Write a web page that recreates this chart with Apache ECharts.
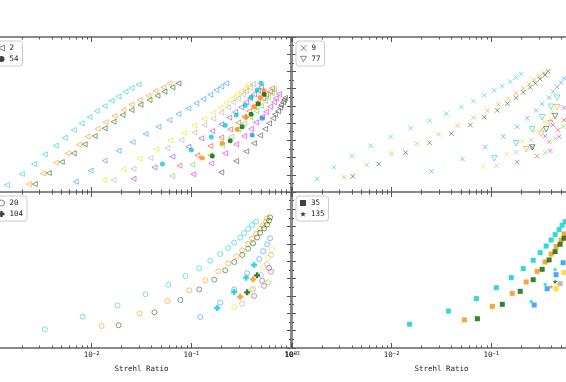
<!DOCTYPE html>
<html>
<head>
<meta charset="utf-8">
<script src="https://cdn.jsdelivr.net/npm/echarts@6/dist/echarts.min.js"></script>
<style>
html, body { margin: 0; padding: 0; background: #fff; }
#main { width: 566px; height: 382px; }
</style>
</head>
<body>
<div id="main"></div>
<script>
// points are [log10(Strehl ratio), y]; series in colour order
var colors = ['#00CED1', '#FF8C00', '#006400', '#1E90FF', '#FFD700', '#A9A9A9',
              '#9932CC', '#FF3030', '#55DD22', '#FF00FF', '#404040'];
var xTickExponents = ['\u22123', '\u22122', '\u22121', '0'];
var legendNames = [['2', '54'], ['9', '77'], ['20', '104'], ['35', '135']];

// top left: hollow left triangles ("2") and filled circles ("54")
var tlTriangles = [
  [[-2.85,0.41],[-2.70,1.05],[-2.58,1.63],[-2.47,2.19],[-2.36,2.69],[-2.27,3.15],[-2.18,3.60],[-2.10,3.99],[-2.02,4.35],[-1.95,4.70],[-1.87,4.99],[-1.80,5.30],[-1.73,5.55],[-1.66,5.83],[-1.60,6.04],[-1.53,6.25]],
  [[-2.63,0.46],[-2.49,1.08],[-2.36,1.70],[-2.24,2.25],[-2.13,2.75],[-2.04,3.21],[-1.94,3.68],[-1.86,4.06],[-1.77,4.41],[-1.68,4.76],[-1.60,5.07],[-1.52,5.34],[-1.43,5.59],[-1.36,5.86],[-1.28,6.08],[-1.22,6.31]],
  [[-2.57,0.46],[-2.43,1.10],[-2.30,1.74],[-2.18,2.25],[-2.07,2.77],[-1.97,3.25],[-1.87,3.70],[-1.78,4.08],[-1.69,4.47],[-1.60,4.76],[-1.51,5.07],[-1.42,5.34],[-1.34,5.59],[-1.27,5.83],[-1.19,6.08],[-1.13,6.31]],
  [[-2.16,0.60],[-2.01,1.24],[-1.87,1.82],[-1.73,2.40],[-1.59,2.90],[-1.46,3.37],[-1.33,3.79],[-1.22,4.18],[-1.13,4.53],[-1.03,4.86],[-0.95,5.15],[-0.88,5.40],[-0.81,5.65],[-0.75,5.92],[-0.70,6.12],[-0.65,6.31]],
  [[-1.87,0.68],[-1.68,1.32],[-1.52,1.94],[-1.35,2.50],[-1.21,3.00],[-1.07,3.44],[-0.97,3.87],[-0.87,4.24],[-0.78,4.61],[-0.71,4.90],[-0.65,5.19],[-0.59,5.44],[-0.54,5.65],[-0.50,5.84],[-0.46,6.02],[-0.43,6.25]],
  [[-1.78,0.70],[-1.58,1.35],[-1.41,1.97],[-1.24,2.54],[-1.10,3.02],[-0.97,3.46],[-0.87,3.89],[-0.78,4.26],[-0.70,4.61],[-0.63,4.92],[-0.58,5.21],[-0.53,5.44],[-0.48,5.67],[-0.45,5.86],[-0.41,6.06],[-0.38,6.27]],
  [[-1.58,0.77],[-1.37,1.43],[-1.19,2.05],[-1.03,2.63],[-0.90,3.12],[-0.79,3.54],[-0.70,3.93],[-0.62,4.32],[-0.56,4.64],[-0.50,4.92],[-0.45,5.21],[-0.41,5.44],[-0.37,5.67],[-0.33,5.88],[-0.30,6.08]],
  [[-1.12,1.53],[-0.94,2.13],[-0.81,2.67],[-0.70,3.17],[-0.61,3.64],[-0.53,4.03],[-0.47,4.37],[-0.42,4.70],[-0.37,4.95],[-0.33,5.23],[-0.28,5.44],[-0.25,5.65],[-0.21,5.83],[-0.19,6.02]],
  [[-1.19,0.93],[-0.99,1.59],[-0.81,2.15],[-0.69,2.71],[-0.60,3.21],[-0.53,3.62],[-0.47,3.99],[-0.41,4.37],[-0.35,4.70],[-0.30,4.99],[-0.26,5.28],[-0.23,5.50],[-0.19,5.73],[-0.17,5.92]],
  [[-0.98,1.03],[-0.80,1.66],[-0.66,2.25],[-0.55,2.77],[-0.47,3.25],[-0.40,3.66],[-0.35,4.04],[-0.29,4.37],[-0.25,4.66],[-0.21,4.95],[-0.17,5.21],[-0.15,5.44],[-0.12,5.69]],
  [[-0.70,1.14],[-0.55,1.80],[-0.45,2.36],[-0.37,2.83],[-0.31,3.29],[-0.26,3.66],[-0.22,3.99],[-0.18,4.28],[-0.16,4.51],[-0.13,4.70],[-0.11,4.90],[-0.10,5.05],[-0.08,5.21],[-0.07,5.34],[-0.06,5.46]]
];
var tlCircles = [
  [[-1.29,1.63],[-1.00,2.44],[-0.80,3.19],[-0.66,3.87],[-0.55,4.47],[-0.46,5.03],[-0.40,5.50],[-0.34,5.92],[-0.30,6.31]],
  [[-0.89,1.97],[-0.69,2.83],[-0.54,3.64],[-0.45,4.34],[-0.37,4.95],[-0.31,5.48],[-0.27,5.88]],
  [[-0.79,2.09],[-0.61,2.98],[-0.49,3.79],[-0.40,4.51],[-0.33,5.13],[-0.27,5.67]],
  [[-0.39,3.31],[-0.29,4.28]]
];

// top right: crosses ("9") and hollow down triangles ("77")
var trCrosses = [
  [[-2.75,0.75],[-2.58,1.45],[-2.40,2.09],[-2.21,2.69],[-2.01,3.21],[-1.81,3.70],[-1.62,4.14],[-1.45,4.55],[-1.30,4.94],[-1.18,5.28],[-1.07,5.61],[-0.97,5.90],[-0.89,6.15],[-0.81,6.41],[-0.75,6.64],[-0.70,6.85]],
  [[-2.48,0.87],[-2.25,1.57],[-2.00,2.23],[-1.75,2.81],[-1.53,3.35],[-1.34,3.85],[-1.18,4.32],[-1.04,4.72],[-0.93,5.09],[-0.83,5.42],[-0.75,5.73],[-0.68,6.02],[-0.62,6.27],[-0.57,6.50],[-0.52,6.70],[-0.47,6.89]],
  [[-2.39,0.91],[-2.13,1.63],[-1.86,2.28],[-1.62,2.86],[-1.40,3.39],[-1.21,3.89],[-1.07,4.34],[-0.94,4.74],[-0.84,5.13],[-0.75,5.46],[-0.68,5.79],[-0.61,6.08],[-0.56,6.31],[-0.51,6.56],[-0.46,6.79],[-0.43,7.01]],
  [[-1.60,1.20],[-1.29,1.92],[-1.06,2.61],[-0.88,3.23],[-0.74,3.79],[-0.64,4.28],[-0.55,4.74],[-0.49,5.11],[-0.42,5.48],[-0.38,5.83],[-0.34,6.10],[-0.30,6.35],[-0.27,6.60]],
  [[-1.08,1.47],[-0.85,2.21],[-0.69,2.92],[-0.56,3.54],[-0.47,4.08],[-0.40,4.61]],
  [[-0.95,1.53],[-0.75,2.30],[-0.60,3.02],[-0.49,3.66],[-0.40,4.18]],
  [[-0.74,1.74],[-0.59,2.59],[-0.46,3.25],[-0.38,3.89],[-0.27,4.90]],
  [[-0.54,2.09],[-0.42,2.92],[-0.33,3.60],[-0.27,4.18]],
  [[-0.46,2.28],[-0.36,3.10],[-0.28,3.79]],
  [[-0.41,2.40],[-0.32,3.21]]
];
var trTriangles = [
  [[-0.97,1.95],[-0.75,2.83],[-0.59,3.64],[-0.49,4.34],[-0.40,4.95],[-0.34,5.48]],
  [[-0.65,2.48],[-0.50,3.37],[-0.41,3.99],[-0.34,4.92]],
  [[-0.59,2.59],[-0.45,3.64],[-0.36,4.41]]
];

// bottom left: hollow circles ("20") and filled plus ("104")
var blCircles = [
  [[-2.47,1.08],[-2.09,1.81],[-1.74,2.46],[-1.46,3.10],[-1.23,3.65],[-1.06,4.15],[-0.92,4.60],[-0.81,5.04],[-0.71,5.42],[-0.63,5.77],[-0.57,6.08],[-0.51,6.37],[-0.47,6.63],[-0.43,6.87],[-0.39,7.10],[-0.35,7.29]],
  [[-1.90,1.27],[-1.52,2.00],[-1.24,2.71],[-1.02,3.33],[-0.86,3.90],[-0.73,4.42],[-0.63,4.88],[-0.55,5.29],[-0.49,5.63],[-0.43,6.00],[-0.39,6.31],[-0.35,6.60],[-0.31,6.87],[-0.28,7.08],[-0.25,7.29],[-0.24,7.48]],
  [[-1.73,1.31],[-1.37,2.06],[-1.11,2.77],[-0.92,3.38],[-0.77,3.94],[-0.66,4.48],[-0.57,4.96],[-0.49,5.37],[-0.43,5.73],[-0.38,6.04],[-0.34,6.38],[-0.31,6.65],[-0.27,6.90],[-0.24,7.12],[-0.22,7.35],[-0.21,7.54]],
  [[-0.91,1.79],[-0.71,2.62],[-0.57,3.38],[-0.44,4.31],[-0.32,5.13],[-0.28,5.58],[-0.24,5.98],[-0.21,6.33]],
  [[-0.57,2.35],[-0.39,3.35],[-0.28,4.65],[-0.23,5.21],[-0.19,5.65]],
  [[-0.49,2.54],[-0.38,3.42],[-0.30,4.21],[-0.24,4.85],[-0.20,5.37]],
  [[-0.37,3.00],[-0.29,3.88],[-0.22,4.62]],
  [[-0.27,3.58],[-0.20,4.40]],
  [[-0.23,3.79]]
];
var blPlus = [
  [[-0.74,2.31],[-0.57,3.23],[-0.45,4.06],[-0.37,4.79]],
  [[-0.51,2.96],[-0.38,3.96]],
  [[-0.44,3.21],[-0.34,4.19]]
];

// bottom right: filled squares ("35") and stars ("135")
var brSquares = [
  [[-1.82,1.37],[-1.43,2.13],[-1.15,2.85],[-0.95,3.48],[-0.80,4.06],[-0.68,4.58],[-0.58,5.06],[-0.51,5.50],[-0.45,5.88],[-0.40,6.23],[-0.36,6.54],[-0.32,6.83],[-0.29,7.08],[-0.26,7.29]],
  [[-1.27,1.62],[-0.99,2.40],[-0.79,3.15],[-0.65,3.81],[-0.54,4.42],[-0.46,4.96],[-0.40,5.42],[-0.35,5.85],[-0.30,6.23],[-0.27,6.58]],
  [[-1.14,1.69],[-0.89,2.52],[-0.71,3.27],[-0.58,3.94],[-0.49,4.54],[-0.42,5.08],[-0.36,5.56],[-0.31,5.98],[-0.27,6.33]],
  [[-0.57,2.48],[-0.44,3.42],[-0.35,4.23],[-0.28,4.92]],
  [[-0.35,3.42],[-0.27,4.35]],
  [[-0.31,3.71]]
];
var brStars = [
  [[-0.60,2.69],[-0.46,3.69],[-0.36,4.54]],
  [[-0.40,3.54]],
  [[-0.36,3.83]]
];

var triLeft = 'path://M10,0L0,5L10,10Z';
var triDown = 'path://M0,0L10,0L5,9Z';
var cross = 'path://M0,0L10,10M10,0L0,10';
var plus = 'path://M3,0H7V3H10V7H7V10H3V7H0V3H3Z';
var star = 'path://M5,0L6.2,3.5L10,3.6L7,5.9L8.1,9.5L5,7.4L1.9,9.5L3,5.9L0,3.6L3.8,3.5Z';
var mono = 'DejaVu Sans Mono';

var minorTicks = [];
for (var d = -3; d < 0; d++) {
  for (var k = 2; k <= 9; k++) minorTicks.push(d + Math.log10(k));
}

var grids = [
  { left: -8, top: 37, width: 299, height: 155 },
  { left: 292, top: 37, width: 299, height: 155 },
  { left: -8, top: 192, width: 299, height: 156 },
  { left: 292, top: 192, width: 299, height: 156 }
];
grids.forEach(function (g) { g.containLabel = false; g.outerBoundsMode = 'none'; });

var xAxes = [], yAxes = [];
grids.forEach(function (g, i) {
  var bottomRow = i >= 2;
  var leftCol = i % 2 === 0;
  ['bottom', 'top'].forEach(function (pos) {
    var labels = bottomRow && pos === 'bottom';
    xAxes.push({
      type: 'value', gridIndex: i, position: pos, min: -3, max: 0, interval: 1,
      axisLine: { show: true, onZero: false, lineStyle: { color: '#8a8a8a', width: 2 } },
      axisTick: { show: true, inside: true, length: 5, lineStyle: { color: '#555', width: 1 } },
      splitLine: { show: false },
      axisLabel: {
        show: labels, margin: 3,
        formatter: function (v) {
          var n = Math.round(v) + 3;
          if (leftCol && n === 0) return '';
          return '{b|10}{e|' + xTickExponents[n] + '}';
        },
        rich: {
          b: { fontFamily: mono, fontSize: 7.5, color: '#222' },
          e: { fontFamily: mono, fontSize: 5.5, color: '#222', verticalAlign: 'top' }
        }
      },
      name: labels ? 'Strehl Ratio' : '', nameLocation: 'middle', nameGap: 17,
      nameTextStyle: { fontFamily: mono, fontSize: 7.5, color: '#222' }
    });
    xAxes.push({
      type: 'value', gridIndex: i, position: pos, min: -3, max: 0,
      axisLine: { show: false, onZero: false },
      axisTick: { show: true, inside: true, length: 2.5, customValues: minorTicks,
                  lineStyle: { color: '#555', width: 1 } },
      axisLabel: { show: false },
      splitLine: { show: false }
    });
  });
  ['left', 'right'].forEach(function (pos) {
    yAxes.push({
      type: 'value', gridIndex: i, position: pos, min: 0, max: 9, interval: 1,
      axisLine: { show: true, onZero: false, lineStyle: { color: '#8a8a8a', width: 2 } },
      axisTick: { show: true, inside: true, length: 4, lineStyle: { color: '#555', width: 1 } },
      minorTick: { show: true, splitNumber: 2, length: 2, lineStyle: { color: '#555', width: 1 } },
      axisLabel: { show: false },
      splitLine: { show: false }
    });
  });
});

var series = [];
function addGroup(panel, groups, name, symbol, size, hollow) {
  groups.forEach(function (pts, c) {
    series.push({
      type: 'scatter', name: name, xAxisIndex: panel * 4, yAxisIndex: panel * 2,
      symbol: symbol, symbolSize: size, data: pts, silent: true,
      itemStyle: hollow
        ? { color: 'rgba(0,0,0,0)', borderColor: colors[c], borderWidth: 1, opacity: 0.55 }
        : { color: colors[c], borderWidth: 0 }
    });
  });
}
addGroup(0, tlTriangles, legendNames[0][0], triLeft, 5, true);
addGroup(0, tlCircles, legendNames[0][1], 'circle', 5, false);
addGroup(1, trCrosses, legendNames[1][0], cross, 4.5, true);
addGroup(1, trTriangles, legendNames[1][1], triDown, 5.5, true);
addGroup(2, blCircles, legendNames[2][0], 'circle', 5, true);
addGroup(2, blPlus, legendNames[2][1], plus, 6, false);
addGroup(3, brSquares, legendNames[3][0], 'rect', 5, false);
addGroup(3, brStars, legendNames[3][1], star, 5, false);

var legendIcons = [[triLeft, 'circle'], [cross, triDown], ['circle', plus], ['rect', star]];
var legendHollow = [[true, false], [true, true], [true, false], [false, false]];
var legendPos = [[-6, 41], [296, 41], [-6, 196], [296, 196]];
var legends = legendNames.map(function (names, i) {
  return {
    orient: 'vertical', left: legendPos[i][0], top: legendPos[i][1],
    padding: [3, 4, 3, 4], itemGap: 3, itemWidth: 6, itemHeight: 6,
    backgroundColor: '#fff', borderColor: '#cccccc', borderWidth: 1, borderRadius: 3,
    selectedMode: false,
    textStyle: { fontFamily: mono, fontSize: 7.5, color: '#222' },
    data: names.map(function (n, j) {
      return {
        name: n, icon: legendIcons[i][j],
        itemStyle: legendHollow[i][j]
          ? { color: 'rgba(0,0,0,0)', borderColor: '#222', borderWidth: 1 }
          : { color: '#111', borderWidth: 0 }
      };
    })
  };
});

var myChart = echarts.init(document.getElementById('main'));
myChart.setOption({
  animation: false,
  backgroundColor: '#fff',
  grid: grids,
  xAxis: xAxes,
  yAxis: yAxes,
  legend: legends,
  series: series
});
</script>
</body>
</html>
